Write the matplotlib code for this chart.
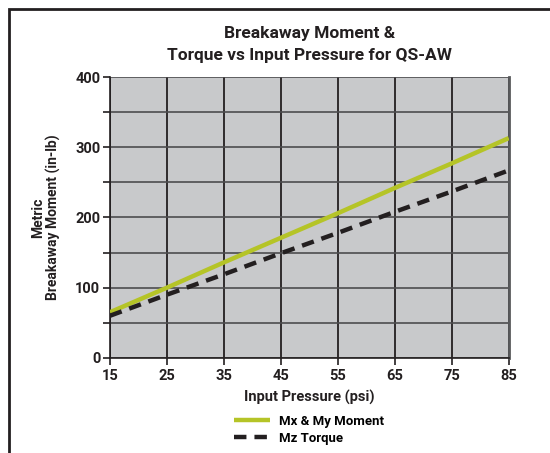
import matplotlib.pyplot as plt
from matplotlib.patches import Rectangle
from matplotlib.ticker import MultipleLocator

# === DATOS ===
pressure = [15, 25, 35, 45, 55, 65, 75, 85]
mx_my_moment = [65, 100, 136, 171, 206, 242, 277, 313]
mz_torque = [60, 90, 119, 149, 178, 208, 237, 267]
x_ticks = [15, 25, 35, 45, 55, 65, 75, 85]
y_ticks = [0, 100, 200, 300, 400]

plt.rcParams['font.family'] = ['Roboto', 'DejaVu Sans']
plt.rcParams['font.weight'] = 'bold'

fig = plt.figure(figsize=(5.5, 4.53), dpi=100)
ax = fig.add_axes([0.2, 0.21, 0.725, 0.62])

# borde exterior (solo arriba e izquierda visibles)
fig.patches.append(Rectangle((9 / 550, -0.1), 1.2, 1 - 9 / 453 + 0.1,
                             transform=fig.transFigure, fill=False,
                             edgecolor='#231f20', linewidth=2))

ax.set_facecolor('#c8c9cb')
ax.plot(pressure, mx_my_moment, color='#b5c427', linewidth=3.2,
        label='Mx & My Moment', solid_capstyle='butt', zorder=3)
ax.plot(pressure, mz_torque, color='#231f20', linewidth=3.2,
        linestyle=(0, (2.8, 1.8)), label='Mz Torque', zorder=3)

ax.set_xlim(15, 85)
ax.set_ylim(0, 400)
ax.set_xticks(x_ticks)
ax.set_yticks(y_ticks)
ax.yaxis.set_minor_locator(MultipleLocator(50))
ax.grid(True, which='both', axis='y', color='#4d4d4f', linewidth=1.2)
ax.grid(True, which='major', axis='x', color='#231f20', linewidth=1.3)
ax.set_axisbelow(True)

ax.spines['top'].set_visible(False)
ax.spines['right'].set_color('#58595b')
ax.spines['right'].set_linewidth(2)
ax.spines['left'].set_color('#231f20')
ax.spines['bottom'].set_color('#231f20')
ax.spines['left'].set_linewidth(1.2)
ax.spines['bottom'].set_linewidth(1.2)

ax.tick_params(axis='both', which='major', length=5, width=1.2,
               labelsize=10.5, colors='#231f20', pad=3)
ax.tick_params(axis='y', which='minor', length=5, width=1.2, color='#231f20')
ax.tick_params(axis='y', pad=2)

ax.set_xlabel('Input Pressure (psi)', fontsize=10.5, fontweight='bold',
              color='#231f20', labelpad=5)
ax.set_ylabel('Metric\nBreakaway Moment (in-lb)', fontsize=10,
              fontweight='bold', color='#231f20', labelpad=10,
              linespacing=1.1)
ax.set_title('Breakaway Moment &\nTorque vs Input Pressure for QS-AW',
             fontsize=12.5, fontweight='bold', color='#231f20', pad=12,
             linespacing=1.6)

ax.legend(loc='upper center', bbox_to_anchor=(0.5, -0.16), frameon=False,
          fontsize=9.5, handlelength=2.7, labelspacing=0.3,
          handletextpad=0.7)

plt.savefig('out.png', dpi=100)
